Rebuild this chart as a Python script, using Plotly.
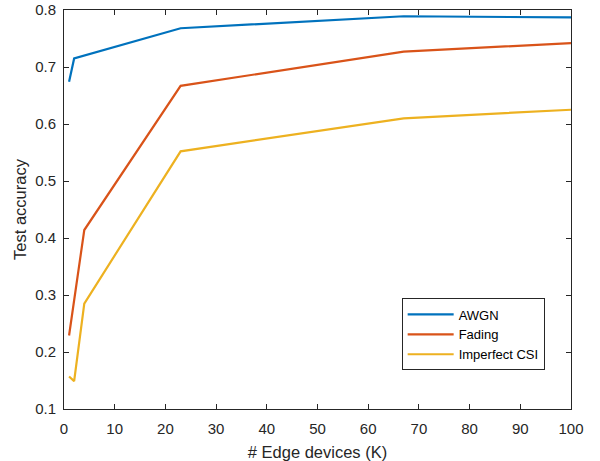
import plotly.graph_objects as go

awgn_k = [1, 2, 23, 67, 100]
awgn_acc = [0.674, 0.715, 0.768, 0.789, 0.787]
fading_k = [1, 4, 23, 67, 100]
fading_acc = [0.229, 0.414, 0.667, 0.727, 0.742]
csi_k = [1, 2, 4, 23, 67, 100]
csi_acc = [0.157, 0.149, 0.285, 0.552, 0.610, 0.625]

x_ticks = [0, 10, 20, 30, 40, 50, 60, 70, 80, 90, 100]
y_ticks = [0.1, 0.2, 0.3, 0.4, 0.5, 0.6, 0.7, 0.8]

font = "Liberation Sans, Arial, Helvetica, sans-serif"
axcol = "#262626"

fig = go.Figure()
fig.add_trace(go.Scatter(x=awgn_k, y=awgn_acc, mode="lines", name="AWGN",
                         line=dict(color="#0072BD", width=2.2)))
fig.add_trace(go.Scatter(x=fading_k, y=fading_acc, mode="lines", name="Fading",
                         line=dict(color="#D95319", width=2.2)))
fig.add_trace(go.Scatter(x=csi_k, y=csi_acc, mode="lines", name="Imperfect CSI",
                         line=dict(color="#EDB120", width=2.2)))

axis_common = dict(showgrid=False, zeroline=False, showline=True, linecolor=axcol,
                   linewidth=1, mirror="ticks", ticks="inside", ticklen=5,
                   tickcolor=axcol, automargin=False, ticklabeloverflow="allow",
                   tickfont=dict(family=font, size=15, color=axcol))

fig.update_layout(
    width=600, height=461,
    margin=dict(l=63.5, r=29, t=9.5, b=51.5, autoexpand=False),
    paper_bgcolor="white", plot_bgcolor="white",
    font=dict(family=font, color=axcol),
    xaxis=dict(range=[0, 100], tickvals=x_ticks, ticklabelstandoff=6,
               title=dict(text="# Edge devices (K)", font=dict(family=font, size=16.5, color=axcol), standoff=12),
               **axis_common),
    yaxis=dict(range=[0.1, 0.8], tickvals=y_ticks, tickformat=".1f", ticklabelstandoff=4,
               title=dict(text="Test accuracy", font=dict(family=font, size=16.5, color=axcol), standoff=4),
               **axis_common),
    legend=dict(x=0.666, y=0.277, xanchor="left", yanchor="top",
                bgcolor="white", bordercolor=axcol, borderwidth=1,
                font=dict(family=font, size=13, color="black"),
                tracegroupgap=0, itemwidth=46),
    showlegend=True,
    hovermode=False,
)

fig.write_html("out.html", config={"displayModeBar": False, "staticPlot": True},
               post_script="document.body.style.margin='0';")
